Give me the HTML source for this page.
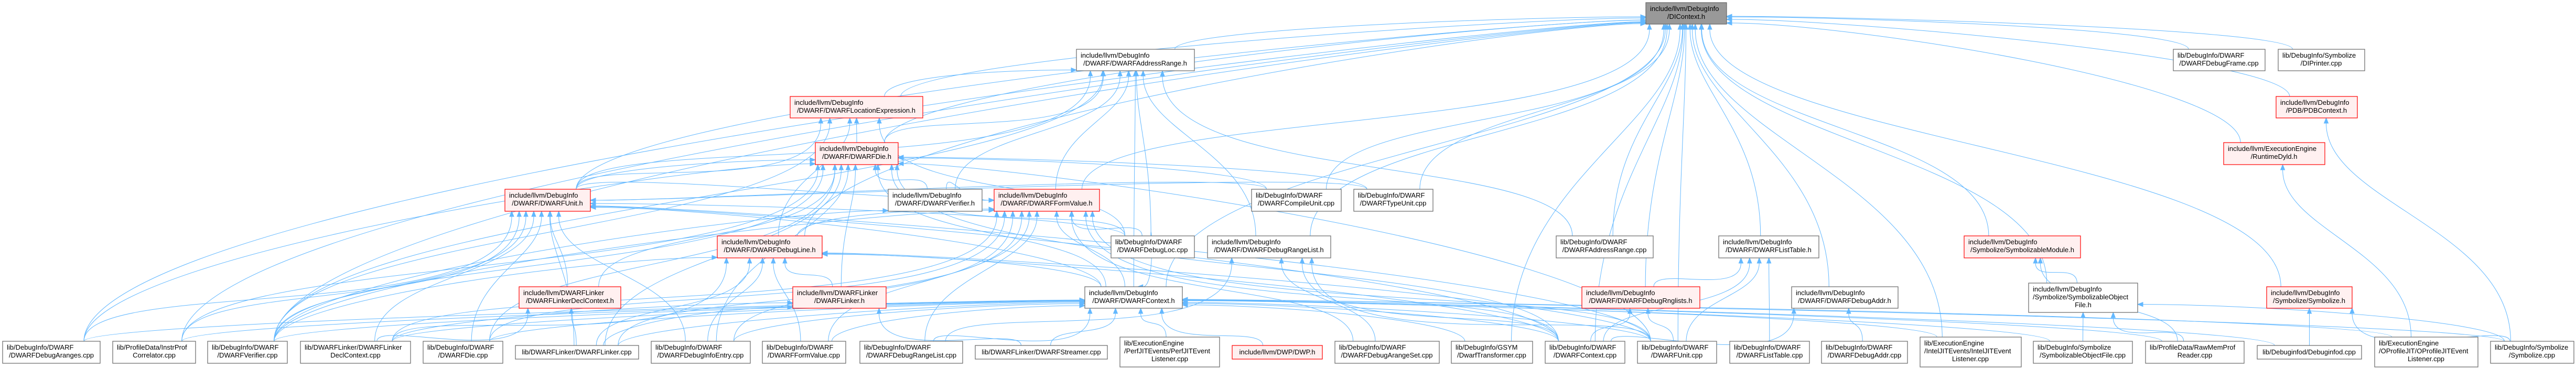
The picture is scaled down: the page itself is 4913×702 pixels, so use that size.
<!DOCTYPE html>
<html><head><meta charset="utf-8">
<style>
html,body{margin:0;padding:0;background:#fff;}
svg{display:block;}
text{font-family:"Liberation Sans",Arial,sans-serif;font-size:13px;fill:#000;}
.w{fill:#fff;stroke:#666;stroke-width:1.2;}
.r{fill:#fff0f0;stroke:#f00;stroke-width:1.2;}
.g{fill:#999;stroke:#666;stroke-width:1.2;}
.e{fill:none;stroke:#63b8ff;stroke-width:1;}
.a{fill:#63b8ff;stroke:#63b8ff;stroke-width:1;}
.m{text-anchor:middle;}
</style></head><body>
<svg id="s" xmlns="http://www.w3.org/2000/svg" width="4913" height="702" viewBox="0 0 4913 702">
<g id="edges"></g>
<g id="nodes">
<rect id="DIC" class="g" x="3139" y="5" width="154" height="41"/><text x="3147" y="21">include/llvm/DebugInfo</text><text class="m" x="3216" y="36">/DIContext.h</text>
<rect id="ARH" class="w" x="2053" y="94" width="225" height="41"/><text x="2061" y="110">include/llvm/DebugInfo</text><text class="m" x="2165" y="125">/DWARF/DWARFAddressRange.h</text>
<rect id="FRM" class="w" x="4145" y="94" width="175" height="41"/><text x="4153" y="110">lib/DebugInfo/DWARF</text><text class="m" x="4232" y="125">/DWARFDebugFrame.cpp</text>
<rect id="DIP" class="w" x="4345" y="94" width="165" height="41"/><text x="4353" y="110">lib/DebugInfo/Symbolize</text><text class="m" x="4427" y="125">/DIPrinter.cpp</text>
<rect id="LOC" class="r" x="1507" y="184" width="253" height="41"/><text x="1515" y="200">include/llvm/DebugInfo</text><text class="m" x="1633" y="215">/DWARF/DWARFLocationExpression.h</text>
<rect id="PDB" class="r" x="4341" y="184" width="155" height="41"/><text x="4349" y="200">include/llvm/DebugInfo</text><text class="m" x="4418" y="215">/PDB/PDBContext.h</text>
<rect id="DIE" class="r" x="1555" y="272" width="158" height="42"/><text x="1563" y="288">include/llvm/DebugInfo</text><text class="m" x="1634" y="303">/DWARF/DWARFDie.h</text>
<rect id="RDY" class="r" x="4241" y="272" width="193" height="42"/><text x="4249" y="288">include/llvm/ExecutionEngine</text><text class="m" x="4337" y="303">/RuntimeDyld.h</text>
<rect id="UNH" class="r" x="963" y="361" width="163" height="42"/><text x="971" y="377">include/llvm/DebugInfo</text><text class="m" x="1044" y="392">/DWARF/DWARFUnit.h</text>
<rect id="VERH" class="w" x="1694" y="361" width="179" height="42"/><text x="1702" y="377">include/llvm/DebugInfo</text><text class="m" x="1783" y="392">/DWARF/DWARFVerifier.h</text>
<rect id="FVH" class="r" x="1896" y="361" width="201" height="42"/><text x="1904" y="377">include/llvm/DebugInfo</text><text class="m" x="1996" y="392">/DWARF/DWARFFormValue.h</text>
<rect id="CU" class="w" x="2387" y="361" width="171" height="42"/><text x="2395" y="377">lib/DebugInfo/DWARF</text><text class="m" x="2472" y="392">/DWARFCompileUnit.cpp</text>
<rect id="TU" class="w" x="2582" y="361" width="151" height="42"/><text x="2590" y="377">lib/DebugInfo/DWARF</text><text class="m" x="2657" y="392">/DWARFTypeUnit.cpp</text>
<rect id="DLH" class="r" x="1368" y="450" width="200" height="42"/><text x="1376" y="466">include/llvm/DebugInfo</text><text class="m" x="1468" y="481">/DWARF/DWARFDebugLine.h</text>
<rect id="DLOC" class="w" x="2119" y="450" width="159" height="42"/><text x="2127" y="466">lib/DebugInfo/DWARF</text><text class="m" x="2198" y="481">/DWARFDebugLoc.cpp</text>
<rect id="DRLH" class="w" x="2303" y="450" width="235" height="42"/><text x="2311" y="466">include/llvm/DebugInfo</text><text class="m" x="2420" y="481">/DWARF/DWARFDebugRangeList.h</text>
<rect id="ARC" class="w" x="2968" y="450" width="185" height="42"/><text x="2976" y="466">lib/DebugInfo/DWARF</text><text class="m" x="3060" y="481">/DWARFAddressRange.cpp</text>
<rect id="LTH" class="w" x="3278" y="450" width="191" height="42"/><text x="3286" y="466">include/llvm/DebugInfo</text><text class="m" x="3373" y="481">/DWARF/DWARFListTable.h</text>
<rect id="SMH" class="r" x="3746" y="450" width="222" height="42"/><text x="3754" y="466">include/llvm/DebugInfo</text><text class="m" x="3857" y="481">/Symbolize/SymbolizableModule.h</text>
<rect id="LDCH" class="r" x="990" y="547" width="194" height="41"/><text x="998" y="563">include/llvm/DWARFLinker</text><text class="m" x="1087" y="578">/DWARFLinkerDeclContext.h</text>
<rect id="LKH" class="r" x="1512" y="547" width="178" height="41"/><text x="1520" y="563">include/llvm/DWARFLinker</text><text class="m" x="1601" y="578">/DWARFLinker.h</text>
<rect id="CTXH" class="w" x="2069" y="547" width="186" height="41"/><text x="2077" y="563">include/llvm/DebugInfo</text><text class="m" x="2162" y="578">/DWARF/DWARFContext.h</text>
<rect id="RNG" class="r" x="3017" y="547" width="225" height="41"/><text x="3025" y="563">include/llvm/DebugInfo</text><text class="m" x="3129" y="578">/DWARF/DWARFDebugRnglists.h</text>
<rect id="DADH" class="w" x="3417" y="547" width="203" height="41"/><text x="3425" y="563">include/llvm/DebugInfo</text><text class="m" x="3518" y="578">/DWARF/DWARFDebugAddr.h</text>
<rect id="SOFH" class="w" x="3869" y="540" width="208" height="56"/><text x="3877" y="556">include/llvm/DebugInfo</text><text x="3877" y="571">/Symbolize/SymbolizableObject</text><text class="m" x="3973" y="586">File.h</text>
<rect id="SYH" class="r" x="4323" y="547" width="163" height="41"/><text x="4331" y="563">include/llvm/DebugInfo</text><text class="m" x="4404" y="578">/Symbolize/Symbolize.h</text>

<rect id="ARNG" class="w" x="5" y="651" width="186" height="42"/><text x="13" y="667">lib/DebugInfo/DWARF</text><text class="m" x="98" y="682">/DWARFDebugAranges.cpp</text>
<rect id="IPC" class="w" x="215" y="651" width="158" height="42"/><text x="223" y="667">lib/ProfileData/InstrProf</text><text class="m" x="294" y="682">Correlator.cpp</text>
<rect id="VERC" class="w" x="396" y="651" width="152" height="42"/><text x="404" y="667">lib/DebugInfo/DWARF</text><text class="m" x="472" y="682">/DWARFVerifier.cpp</text>
<rect id="LDCC" class="w" x="573" y="651" width="210" height="42"/><text x="581" y="667">lib/DWARFLinker/DWARFLinker</text><text class="m" x="678" y="682">DeclContext.cpp</text>
<rect id="DIEC" class="w" x="807" y="651" width="152" height="42"/><text x="815" y="667">lib/DebugInfo/DWARF</text><text class="m" x="883" y="682">/DWARFDie.cpp</text>
<rect id="LKC" class="w" x="983" y="659" width="235" height="26"/><text class="m" x="1100" y="676">lib/DWARFLinker/DWARFLinker.cpp</text>
<rect id="DIEE" class="w" x="1242" y="651" width="189" height="42"/><text x="1250" y="667">lib/DebugInfo/DWARF</text><text class="m" x="1336" y="682">/DWARFDebugInfoEntry.cpp</text>
<rect id="FVC" class="w" x="1454" y="651" width="159" height="42"/><text x="1462" y="667">lib/DebugInfo/DWARF</text><text class="m" x="1533" y="682">/DWARFFormValue.cpp</text>
<rect id="DRLC" class="w" x="1640" y="651" width="196" height="42"/><text x="1648" y="667">lib/DebugInfo/DWARF</text><text class="m" x="1738" y="682">/DWARFDebugRangeList.cpp</text>
<rect id="STR" class="w" x="1860" y="659" width="252" height="26"/><text class="m" x="1986" y="676">lib/DWARFLinker/DWARFStreamer.cpp</text>
<rect id="PERF" class="w" x="2136" y="643" width="190" height="57"/><text x="2144" y="659">lib/ExecutionEngine</text><text x="2144" y="674">/PerfJITEvents/PerfJITEvent</text><text class="m" x="2231" y="689">Listener.cpp</text>
<rect id="DWP" class="r" x="2350" y="659" width="172" height="26"/><text class="m" x="2436" y="676">include/llvm/DWP/DWP.h</text>
<rect id="ASET" class="w" x="2546" y="651" width="199" height="42"/><text x="2554" y="667">lib/DebugInfo/DWARF</text><text class="m" x="2645" y="682">/DWARFDebugArangeSet.cpp</text>
<rect id="GSYM" class="w" x="2768" y="651" width="155" height="42"/><text x="2776" y="667">lib/DebugInfo/GSYM</text><text class="m" x="2845" y="682">/DwarfTransformer.cpp</text>
<rect id="CTXC" class="w" x="2947" y="651" width="152" height="42"/><text x="2955" y="667">lib/DebugInfo/DWARF</text><text class="m" x="3023" y="682">/DWARFContext.cpp</text>
<rect id="UNC" class="w" x="3123" y="651" width="151" height="42"/><text x="3131" y="667">lib/DebugInfo/DWARF</text><text class="m" x="3198" y="682">/DWARFUnit.cpp</text>
<rect id="LTC" class="w" x="3299" y="651" width="152" height="42"/><text x="3307" y="667">lib/DebugInfo/DWARF</text><text class="m" x="3375" y="682">/DWARFListTable.cpp</text>
<rect id="DADC" class="w" x="3474" y="651" width="164" height="42"/><text x="3482" y="667">lib/DebugInfo/DWARF</text><text class="m" x="3556" y="682">/DWARFDebugAddr.cpp</text>
<rect id="INTEL" class="w" x="3662" y="643" width="193" height="57"/><text x="3670" y="659">lib/ExecutionEngine</text><text x="3670" y="674">/IntelJITEvents/IntelJITEvent</text><text class="m" x="3758" y="689">Listener.cpp</text>
<rect id="SOFC" class="w" x="3878" y="651" width="189" height="42"/><text x="3886" y="667">lib/DebugInfo/Symbolize</text><text class="m" x="3972" y="682">/SymbolizableObjectFile.cpp</text>
<rect id="RMP" class="w" x="4092" y="651" width="188" height="42"/><text x="4100" y="667">lib/ProfileData/RawMemProf</text><text class="m" x="4186" y="682">Reader.cpp</text>
<rect id="DIFD" class="w" x="4305" y="659" width="199" height="26"/><text class="m" x="4404" y="676">lib/Debuginfod/Debuginfod.cpp</text>
<rect id="OPROF" class="w" x="4529" y="643" width="197" height="57"/><text x="4537" y="659">lib/ExecutionEngine</text><text x="4537" y="674">/OProfileJIT/OProfileJITEvent</text><text class="m" x="4627" y="689">Listener.cpp</text>
<rect id="SYC" class="w" x="4750" y="651" width="159" height="42"/><text x="4758" y="667">lib/DebugInfo/Symbolize</text><text class="m" x="4829" y="682">/Symbolize.cpp</text>
</g>
</svg>
<script>
(function(){
var E={
DIC:"ARH LOC DIE UNH FVH DLH DRLH CTXH LTH DADH CU TU ARC FRM DIP PDB RDY SMH SOFH SYH ARNG IPC GSYM CTXC UNC INTEL VERC RNG",
ARH:"LOC DIE VERH FVH DLOC DRLH ARC UNH CTXH VERC",
LOC:"DIE UNH DLOC VERC DLH",
DIE:"VERH UNH LKH LDCH VERC DIEC LKC DIEE CTXH CU TU DLOC CTXC UNC ARNG IPC",
VERH:"VERC",
FVH:"VERH UNH DLH DLOC CTXH FVC DRLC VERC DIEC DIEE LKC CTXC UNC ASET LDCC",
UNH:"LDCH CTXH ARNG IPC VERC LDCC DIEC LKC CU TU DIEE CTXC UNC DLOC",
DLH:"LKH CTXH VERC LKC DIEE FVC LDCC CTXC UNC",
DRLH:"DRLC CTXC UNC ASET",
LDCH:"LDCC LKC",
LKH:"LKC LDCC STR",
CTXH:"VERC LKC DIEC DIEE FVC DRLC STR PERF DWP GSYM CTXC UNC INTEL SOFC RMP DIFD OPROF SYC IPC ARNG LDCC DLOC",
LTH:"RNG CTXC UNC LTC",
RNG:"CTXC UNC",
DADH:"CTXC DADC",
SMH:"SOFH RMP",
SOFH:"SOFC RMP SYC",
SYH:"DIFD SYC",
PDB:"SYC",
RDY:"OPROF"
};
var NS="http://www.w3.org/2000/svg",g=document.getElementById("edges");
function B(id){var r=document.getElementById(id);var x=+r.getAttribute("x"),y=+r.getAttribute("y"),w=+r.getAttribute("width"),h=+r.getAttribute("height");return{x:x,y:y,w:w,h:h,cx:x+w/2,cy:y+h/2};}
for(var t in E){var T=B(t);E[t].split(" ").forEach(function(s,i){
 var S=B(s);
 var dx=S.cx-T.cx,dy=S.cy-T.cy;
 var tt=Math.min((T.w/2)/Math.max(Math.abs(dx),1e-6),(T.h/2)/Math.max(Math.abs(dy),1e-6));
 var ex=T.cx+dx*tt,ey=T.cy+dy*tt,nx,ny;
 if(Math.abs(ey-(T.y+T.h))<0.5){nx=0;ny=1;}else if(ex<T.cx){nx=-1;ny=0;}else{nx=1;ny=0;}
 var sx=S.cx+Math.max(-S.w/3,Math.min(S.w/3,(T.cx-S.cx)*0.1)),sy=S.y;
 var dist=Math.sqrt(dx*dx+dy*dy),k=Math.min(dist*0.4,350);
 var bx=ex+nx*10,by=ey+ny*10;
 var c1x=sx,c1y=sy-Math.max(40,(sy-ey)*0.5);
 var c2x=bx+nx*k*0.6,c2y=by+ny*k*0.6;
 var p=document.createElementNS(NS,"path");
 p.setAttribute("class","e");
 p.setAttribute("d","M"+sx+","+sy+" C"+c1x+","+c1y+" "+c2x+","+c2y+" "+bx+","+by);
 g.appendChild(p);
 var px=-ny,py=nx;
 var a=document.createElementNS(NS,"polygon");
 a.setAttribute("class","a");
 a.setAttribute("points",ex+","+ey+" "+(bx+px*4)+","+(by+py*4)+" "+(bx-px*4)+","+(by-py*4));
 g.appendChild(a);
});}
})();
</script>
</body></html>
